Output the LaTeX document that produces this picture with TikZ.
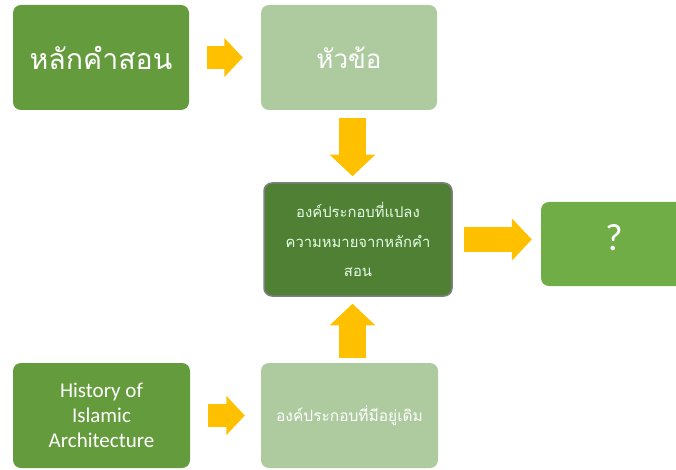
\documentclass[tikz,border=0pt]{standalone}
\usepackage{fontspec}
\setmainfont{Carlito}
\newfontfamily\thaifont[Script=Thai]{Loma}
\usetikzlibrary{arrows.meta}
\definecolor{darkgreen}{RGB}{100,155,60}
\definecolor{palegreen}{RGB}{174,203,159}
\definecolor{deepgreen}{RGB}{80,128,52}
\definecolor{brightgreen}{RGB}{112,173,71}
\definecolor{arrowgold}{RGB}{255,192,0}
\tikzset{
every picture/.style={x=1pt, y=-1pt},
box/.style={rounded corners=8pt, inner sep=2pt, text=white, align=center},
bigarrow/.style={draw=arrowgold, line width=#1,
  -{Triangle[width=1.65*#1, length=0.8*#1]}},
bigarrow/.default=23pt
}

\begin{document}
\begin{tikzpicture}
    \useasboundingbox (0,0) rectangle (676,470);
    \node[box, fill=darkgreen, minimum width=176pt, minimum height=105pt,
      font=\thaifont\fontsize{28.5}{32}\selectfont] (lak) at (101,57.5) {หลักคำสอน};
    \node[box, fill=palegreen, minimum width=176pt, minimum height=105pt,
      font=\thaifont\fontsize{26}{32}\selectfont] (huakho) at (349,57.5) {หัวข้อ};
    \node[box, fill=deepgreen, draw=gray, line width=1.5pt,
      minimum width=188pt, minimum height=113pt, text=green!10,
      font=\thaifont\fontsize{14.8}{29.5}\selectfont] (ongprakop) at (358,239.5)
      {องค์ประกอบที่แปลง\\ความหมายจากหลักคำ\\สอน};
    \node[box, fill=brightgreen, minimum width=146pt, minimum height=84pt,
      text depth=12pt, font=\fontsize{38}{40}\selectfont] (q) at (614,244) {?};
    \node[box, fill=darkgreen, minimum width=177pt, minimum height=105pt,
      font=\fontsize{21}{25}\selectfont] (history) at (101.5,415.5)
      {History of\\Islamic\\Architecture};
    \node[box, fill=palegreen, minimum width=177pt, minimum height=105pt,
      font=\thaifont\fontsize{15.5}{18}\selectfont] (doem) at (349.5,415.5)
      {องค์ประกอบที่มีอยู่เดิม};
    % arrows
    \draw[bigarrow, shorten <=18pt, shorten >=18pt] (lak) -- (huakho);
    \draw[bigarrow, shorten <=18pt, shorten >=16pt] (history) -- (doem);
    \draw[bigarrow=27pt, shorten <=8pt, shorten >=6pt]
      ([xshift=-5.5pt]ongprakop.north |- huakho.south) -- ([xshift=-5.5pt]ongprakop.north);
    \draw[bigarrow=27pt, shorten <=5pt, shorten >=7pt]
      ([xshift=-5.5pt]ongprakop.south |- doem.north) -- ([xshift=-5.5pt]ongprakop.south);
    \draw[bigarrow=25pt, shorten <=11pt, shorten >=9pt] (ongprakop.east) -- (ongprakop.east -| q.west);
\end{tikzpicture}
\end{document}
